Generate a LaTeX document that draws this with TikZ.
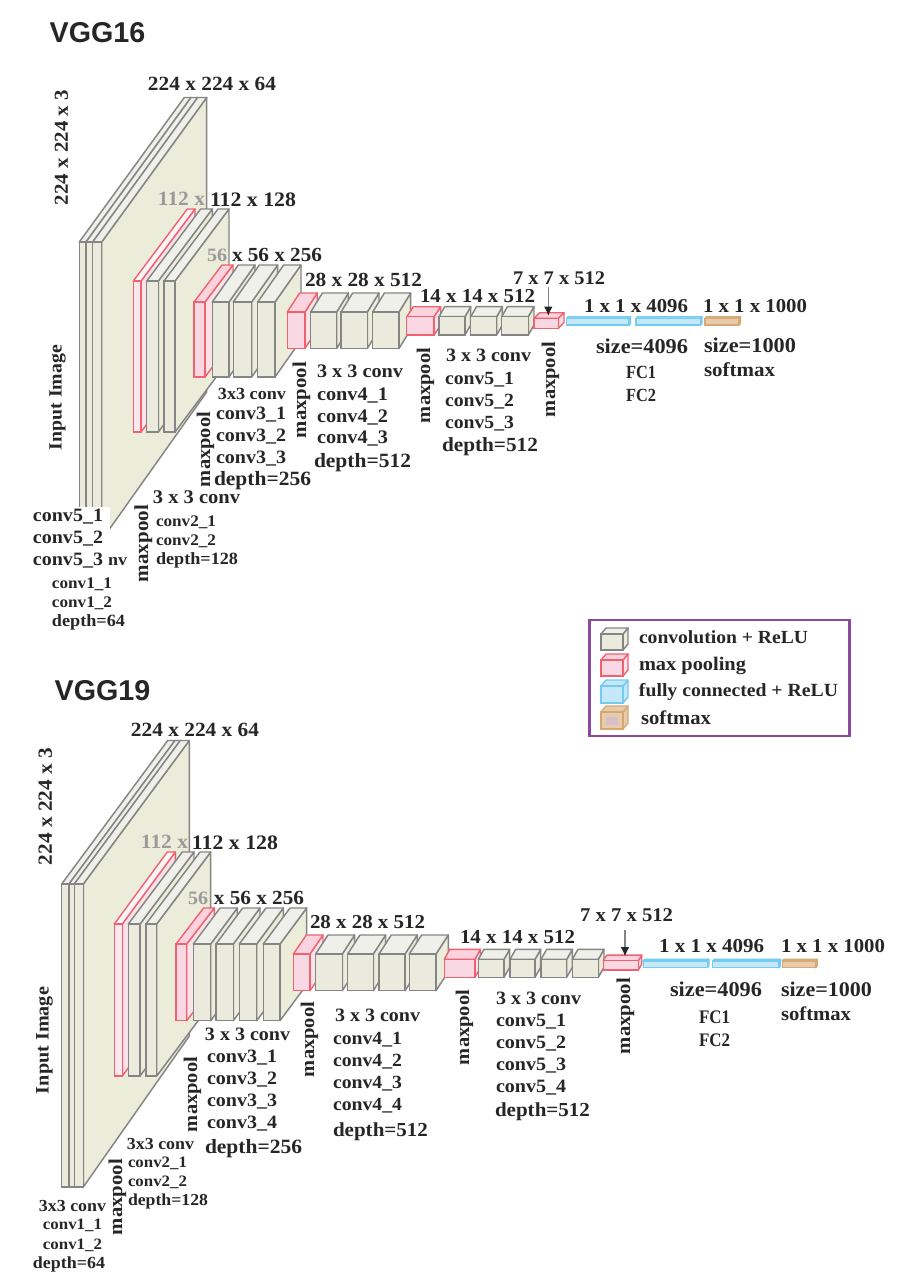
\documentclass[tikz,border=0pt]{standalone}
\usepackage{fontspec}
\usepackage{graphicx}
\setmainfont[FakeStretch=1.06]{Liberation Serif}
\newfontfamily\headfont{Liberation Sans}
\definecolor{ink}{HTML}{262626}
\definecolor{fade}{HTML}{9A9A9A}
\definecolor{gedge}{HTML}{858585}
\definecolor{redge}{HTML}{F0626E}
\definecolor{bedge}{HTML}{74CBF2}
\definecolor{sedge}{HTML}{D8A873}
\definecolor{cf}{HTML}{EAEBDC}
\definecolor{cs}{HTML}{EBECDA}
\definecolor{ct}{HTML}{F0F0EA}
\definecolor{pf}{HTML}{F9D8E3}
\definecolor{ps}{HTML}{FBE3EA}
\definecolor{pt}{HTML}{FBD3DE}
\definecolor{ff}{HTML}{C4E8F7}
\definecolor{sf}{HTML}{E6CCAC}
\definecolor{legendc}{HTML}{8A4A9E}
\usetikzlibrary{arrows.meta}
\tikzset{
  convfront/.style={draw=gedge,line width=1.1pt,fill=cf},
  convside/.style={draw=gedge,line width=1.1pt,fill=cs,line join=round},
  convtop/.style={draw=gedge,line width=1.1pt,fill=ct,line join=round},
  poolfront/.style={draw=redge,line width=1.05pt,fill=pf},
  poolside/.style={draw=redge,line width=1.05pt,fill=ps,line join=round},
  pooltop/.style={draw=redge,line width=1.05pt,fill=pt,line join=round},
  poolwfront/.style={draw=redge,line width=1.05pt,fill=pf!60!white},
  poolwside/.style={draw=redge,line width=1.05pt,fill=ps,line join=round},
  poolwtop/.style={draw=redge,line width=1.05pt,fill=pf!25!white,line join=round},
  fcfront/.style={draw=bedge,line width=1.05pt,fill=ff},
  fcside/.style={draw=bedge,line width=1.05pt,fill=ff,line join=round},
  fctop/.style={draw=bedge,line width=1.05pt,fill=ff,line join=round},
  softfront/.style={draw=sedge,line width=1.05pt,fill=sf},
  softside/.style={draw=sedge,line width=1.05pt,fill=sf,line join=round},
  softtop/.style={draw=sedge,line width=1.05pt,fill=sf,line join=round},
  txt/.style={inner sep=0pt,outer sep=0pt,text=ink,font=\bfseries},
  fadetxt/.style={txt,text=fade},
  head/.style={inner sep=0pt,anchor=center,text=ink,font=\headfont\bfseries\fontsize{21.5}{21.5}\selectfont},
  pointer/.style={draw=gedge,line width=1.2pt,-{Latex[length=7pt,width=6.5pt,color=ink]}},
  legendbox/.style={draw=legendc,line width=1.9pt,fill=white,outer sep=0pt},
}
\newcounter{lblc}
% block: style, x1, x2, ytop, ybot, dx, dy top, dy bottom
\newcommand{\blk}[8]{%
  \draw[#1side] (#3,#4) -- ({#3+#6},{#4-#7}) -- ({#3+#6},{#5-#8}) -- (#3,#5) -- cycle;
  \draw[#1top] (#2,#4) -- ({#2+#6},{#4-#7}) -- ({#3+#6},{#4-#7}) -- (#3,#4) -- cycle;
  \draw[#1front] (#2,#4) rectangle (#3,#5);
}
% horizontal label fitted to x1..x2, centred at y
\newcommand{\lbl}[5][txt]{%
  \stepcounter{lblc}%
  \pgfmathsetlengthmacro{\lblw}{(#3-#2)*0.75pt}%
  \node[#1] (t\thelblc) at ({(#2+#3)/2},{#4+2.5}) {\resizebox{\lblw}{!}{\vphantom{Ag}#5}};
}
% vertical label fitted to y1..y2, centred at x
\newcommand{\vlbl}[4]{%
  \stepcounter{lblc}%
  \pgfmathsetlengthmacro{\lblw}{(#3-#2)*0.75pt}%
  \node[txt,rotate=90] (t\thelblc) at ({#1+2.5},{(#2+#3)/2}) {\resizebox{\lblw}{!}{\vphantom{Ag}#4}};
}
\newcommand{\tallcap}[1]{\scalebox{1}[1.2]{#1}}
\begin{document}
\begin{tikzpicture}[x=0.75pt,y=-0.75pt]
\useasboundingbox (0,0) rectangle (909,1281);
\fill[white] (0,0) rectangle (909,1281);
% ---------- VGG16 ----------
\node[head] (h16) at (97.5,33) {VGG16};
\blk{conv}{79.3}{86}{242}{540}{105}{144.5}{148}
\blk{conv}{86}{92.7}{242}{540}{105}{144.5}{148}
\blk{conv}{92.7}{101.7}{242}{540}{105}{144.5}{148}
\blk{poolw}{133.3}{141}{281}{432}{54}{72}{72}
\blk{conv}{146.7}{158.3}{281}{432}{54}{72}{72}
\blk{conv}{164}{175}{281}{432}{54}{72}{72}
\blk{pool}{194}{205}{302}{377}{28}{37}{37}
\blk{conv}{212.3}{229}{302}{377}{26}{37}{37}
\blk{conv}{233.3}{251.7}{302}{377}{26}{37}{37}
\blk{conv}{257.7}{275}{302}{377}{26}{37}{37}
\blk{pool}{287.3}{305}{312}{348.5}{12.3}{19}{19}
\blk{conv}{310.7}{336.7}{312}{348.5}{11.7}{19}{19}
\blk{conv}{341}{367.3}{312}{348.5}{11.7}{19}{19}
\blk{conv}{372.7}{399}{312}{348.5}{11.7}{19}{19}
\blk{pool}{406.7}{434}{316.7}{335}{6.7}{10}{10}
\blk{conv}{439}{465}{316.7}{335}{5.7}{10}{10}
\blk{conv}{470.7}{496.7}{316.7}{335}{5.7}{10}{10}
\blk{conv}{501.7}{528.3}{316.7}{335}{5.7}{10}{10}
\blk{pool}{534}{558.3}{318.3}{328.3}{5.7}{5.6}{5.6}
\blk{fc}{566.7}{629}{318.5}{325}{1.5}{1.8}{1.8}
\blk{fc}{636}{700.5}{318.5}{325}{1.5}{1.8}{1.8}
\blk{soft}{705}{739}{318.5}{325}{1.5}{1.8}{1.8}
\coordinate (a16s) at (548.3,287);
\coordinate (a16e) at (548.3,316);
\draw[pointer] (a16s) -- (a16e);
\fill[white] (30,507) rectangle (109.5,575);
\lbl{148}{276}{84}{224 x 224 x 64}
\vlbl{61}{90}{205}{224 x 224 x 3}
\lbl[fadetxt]{158}{205}{199}{112 x}
\lbl{210}{296}{199}{112 x 128}
\lbl[fadetxt]{207}{227}{255}{56}
\lbl{232}{322}{255}{x 56 x 256}
\lbl{305}{422}{280}{28 x 28 x 512}
\lbl{420}{535}{296}{14 x 14 x 512}
\lbl{513}{605}{278}{7 x 7 x 512}
\lbl{584}{688}{306}{1 x 1 x 4096}
\lbl{703}{807}{306}{1 x 1 x 1000}
\lbl{596}{688}{346}{size=4096}
\lbl{704}{796}{345}{size=1000}
\lbl{626}{656}{372}{\tallcap{FC1}}
\lbl{626}{656}{395}{\tallcap{FC2}}
\lbl{704}{775}{369}{softmax}
\vlbl{55}{345}{450}{Input Image}
\lbl{33}{103}{515}{conv5\_1}
\lbl{33}{103}{537}{conv5\_2}
\lbl{33}{103}{559}{conv5\_3}
\lbl{108}{127}{559}{nv}
\lbl{52}{112}{582}{conv1\_1}
\lbl{52}{112}{601}{conv1\_2}
\lbl{52}{125}{620}{depth=64}
\vlbl{141}{505}{582}{maxpool}
\lbl{153}{240}{497}{3 x 3 conv}
\lbl{156}{216}{520}{conv2\_1}
\lbl{156}{216}{539}{conv2\_2}
\lbl{156}{238}{558}{depth=128}
\vlbl{203}{412}{487}{maxpool}
\lbl{218}{286}{393}{3x3 conv}
\lbl{216}{286}{413}{conv3\_1}
\lbl{216}{286}{435}{conv3\_2}
\lbl{216}{286}{457}{conv3\_3}
\lbl{214}{311}{478}{depth=256}
\vlbl{299}{362}{438}{maxpool}
\lbl{317}{403}{371}{3 x 3 conv}
\lbl{317}{388}{394}{conv4\_1}
\lbl{317}{388}{416}{conv4\_2}
\lbl{317}{388}{437}{conv4\_3}
\lbl{314}{411}{460}{depth=512}
\vlbl{423}{348}{423}{maxpool}
\lbl{446}{531}{355}{3 x 3 conv}
\lbl{445}{514}{378}{conv5\_1}
\lbl{445}{514}{400}{conv5\_2}
\lbl{445}{514}{422}{conv5\_3}
\lbl{442}{538}{444}{depth=512}
\vlbl{548}{342}{417}{maxpool}
% ---------- Legend ----------
\node[legendbox,minimum width=195pt,minimum height=87pt,inner sep=0pt,anchor=north west] (legend) at (589.5,620) {};
\blk{conv}{601}{623}{634}{650}{5}{6}{6}
\blk{pool}{601}{623}{660}{676}{5}{6}{6}
\blk{fc}{601}{623}{686}{703}{5}{6}{6}
\blk{soft}{601}{623}{712}{729}{5}{6}{6}
\fill[pf!70!gedge] (606,717) rectangle (618,725);
\lbl{639}{808}{637}{convolution + ReLU}
\lbl{639}{746}{663}{max pooling}
\lbl{639}{838}{689}{fully connected + ReLU}
\lbl{641}{711}{717}{softmax}
% ---------- VGG19 ----------
\node[head] (h19) at (102.5,691) {VGG19};
\blk{conv}{61.7}{69}{884}{1187}{106}{143.5}{151}
\blk{conv}{69}{74.3}{884}{1187}{106}{143.5}{151}
\blk{conv}{74.3}{83.3}{884}{1187}{106}{143.5}{151}
\blk{poolw}{114.3}{122.3}{924}{1076}{53}{72}{72}
\blk{conv}{128.3}{140}{924}{1076}{54}{72}{72}
\blk{conv}{146}{156.7}{924}{1076}{54}{72}{72}
\blk{pool}{176}{186.7}{944}{1020.7}{27.6}{36}{36}
\blk{conv}{193.3}{210.7}{944}{1020.7}{26.7}{36}{36}
\blk{conv}{216}{233.3}{944}{1020.7}{26.7}{36}{36}
\blk{conv}{239.3}{256.7}{944}{1020.7}{26.7}{36}{36}
\blk{conv}{263.3}{280}{944}{1020.7}{26.7}{36}{36}
\blk{pool}{293.3}{310}{954}{990.7}{13}{19}{19}
\blk{conv}{315.7}{342.3}{954}{990.7}{12.3}{19}{19}
\blk{conv}{347.7}{373.3}{954}{990.7}{12.3}{19}{19}
\blk{conv}{379}{405}{954}{990.7}{12.3}{19}{19}
\blk{conv}{409.3}{436}{954}{990.7}{12.3}{19}{19}
\blk{pool}{444.3}{475}{959.3}{977.3}{5.5}{10}{10}
\blk{conv}{478.3}{504}{959.3}{977.3}{5.7}{10}{10}
\blk{conv}{510}{535}{959.3}{977.3}{5.7}{10}{10}
\blk{conv}{541}{566.7}{959.3}{977.3}{5.7}{10}{10}
\blk{conv}{572.3}{598.3}{959.3}{977.3}{5.7}{10}{10}
\blk{pool}{603.3}{638.3}{960.7}{970}{3.4}{5.6}{5.6}
\blk{fc}{643.3}{707.3}{961}{967.7}{1.5}{1.8}{1.8}
\blk{fc}{712.7}{779}{961}{967.7}{1.5}{1.8}{1.8}
\blk{soft}{782.3}{815.7}{961}{967.7}{1.5}{1.8}{1.8}
\coordinate (a19s) at (625,930);
\coordinate (a19e) at (625,956.5);
\draw[pointer] (a19s) -- (a19e);
\lbl{131}{259}{730}{224 x 224 x 64}
\vlbl{45}{748}{865}{224 x 224 x 3}
\lbl[fadetxt]{141}{188}{842}{112 x}
\lbl{192}{278}{842}{112 x 128}
\lbl[fadetxt]{188}{208}{898}{56}
\lbl{214}{304}{898}{x 56 x 256}
\lbl{310}{425}{922}{28 x 28 x 512}
\lbl{460}{575}{937}{14 x 14 x 512}
\lbl{580}{673}{915}{7 x 7 x 512}
\lbl{659}{764}{946}{1 x 1 x 4096}
\lbl{781}{885}{946}{1 x 1 x 1000}
\lbl{670}{762}{989}{size=4096}
\lbl{781}{872}{989}{size=1000}
\lbl{699}{730}{1016}{\tallcap{FC1}}
\lbl{699}{730}{1039}{\tallcap{FC2}}
\lbl{781}{851}{1013}{softmax}
\vlbl{42}{987}{1094}{Input Image}
\lbl{39}{106}{1205}{3x3 conv}
\lbl{43}{102}{1223}{conv1\_1}
\lbl{43}{102}{1243}{conv1\_2}
\lbl{33}{105}{1262}{depth=64}
\vlbl{115}{1159}{1235}{maxpool}
\lbl{127}{194}{1143}{3x3 conv}
\lbl{128}{187}{1161}{conv2\_1}
\lbl{128}{187}{1180}{conv2\_2}
\lbl{128}{208}{1199}{depth=128}
\vlbl{190}{1057}{1132}{maxpool}
\lbl{205}{290}{1034}{3 x 3 conv}
\lbl{207}{277}{1056}{conv3\_1}
\lbl{207}{277}{1078}{conv3\_2}
\lbl{207}{277}{1100}{conv3\_3}
\lbl{207}{277}{1122}{conv3\_4}
\lbl{205}{302}{1146}{depth=256}
\vlbl{307}{1002}{1077}{maxpool}
\lbl{335}{420}{1015}{3 x 3 conv}
\lbl{333}{402}{1038}{conv4\_1}
\lbl{333}{402}{1060}{conv4\_2}
\lbl{333}{402}{1082}{conv4\_3}
\lbl{333}{402}{1104}{conv4\_4}
\lbl{333}{428}{1129}{depth=512}
\vlbl{462}{990}{1065}{maxpool}
\lbl{496}{581}{998}{3 x 3 conv}
\lbl{496}{566}{1020}{conv5\_1}
\lbl{496}{566}{1042}{conv5\_2}
\lbl{496}{566}{1064}{conv5\_3}
\lbl{496}{566}{1086}{conv5\_4}
\lbl{495}{590}{1109}{depth=512}
\vlbl{623}{978}{1054}{maxpool}
\end{tikzpicture}
\end{document}
